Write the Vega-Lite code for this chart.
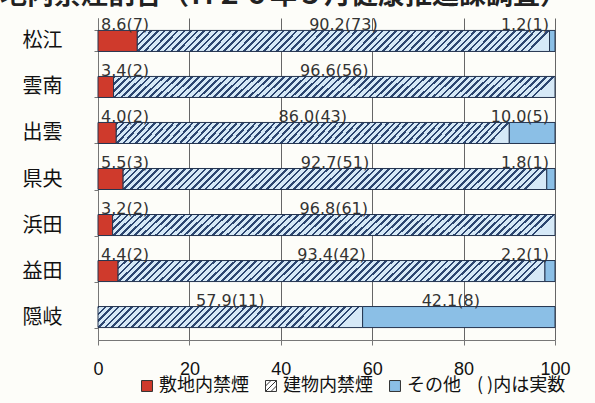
{
"$schema":"https://vega.github.io/schema/vega-lite/v6.json",
"width":457,"height":322,
"autosize":"none",
"padding":{"left":98,"top":18,"right":40,"bottom":63},
"background":"#fdfdf9",
"title":{"text":"敷地内禁煙割合（Ｈ２６年５月健康推進課調査）","anchor":"start","frame":"group","dx":-125,"dy":29,"offset":0,"baseline":"bottom","fontSize":27,"font":"Noto Sans CJK JP","fontWeight":"bold","color":"#222222"},
"data":{"values":[
{"area":"松江","type":"敷地内禁煙","pct":8.6,"n":7},
{"area":"松江","type":"建物内禁煙","pct":90.2,"n":73},
{"area":"松江","type":"その他","pct":1.2,"n":1},
{"area":"雲南","type":"敷地内禁煙","pct":3.4,"n":2},
{"area":"雲南","type":"建物内禁煙","pct":96.6,"n":56},
{"area":"出雲","type":"敷地内禁煙","pct":4.0,"n":2},
{"area":"出雲","type":"建物内禁煙","pct":86.0,"n":43},
{"area":"出雲","type":"その他","pct":10.0,"n":5},
{"area":"県央","type":"敷地内禁煙","pct":5.5,"n":3},
{"area":"県央","type":"建物内禁煙","pct":92.7,"n":51},
{"area":"県央","type":"その他","pct":1.8,"n":1},
{"area":"浜田","type":"敷地内禁煙","pct":3.2,"n":2},
{"area":"浜田","type":"建物内禁煙","pct":96.8,"n":61},
{"area":"益田","type":"敷地内禁煙","pct":4.4,"n":2},
{"area":"益田","type":"建物内禁煙","pct":93.4,"n":42},
{"area":"益田","type":"その他","pct":2.2,"n":1},
{"area":"隠岐","type":"建物内禁煙","pct":57.9,"n":11},
{"area":"隠岐","type":"その他","pct":42.1,"n":8}
]},
"transform":[
{"calculate":"indexof(['敷地内禁煙','建物内禁煙','その他'], datum.type)","as":"order"},
{"stack":"pct","groupby":["area"],"sort":[{"field":"order","order":"ascending"}],"as":["x0","x1"]},
{"calculate":"(datum.x0+datum.x1)/2","as":"mid"},
{"calculate":"format(datum.pct,'.1f')+'('+datum.n+')'","as":"label"}
],
"encoding":{
"y":{"field":"area","type":"nominal","title":null,"sort":["松江","雲南","出雲","県央","浜田","益田","隠岐"],
"scale":{"paddingInner":0.543,"paddingOuter":0.27},
"axis":{"domainColor":"#777777","tickColor":"#777777","tickSize":4,"tickBand":"extent","labelFontSize":20,"labelColor":"#111111","labelPadding":32,"grid":false,"labelFont":"Noto Sans CJK JP"}}
},
"layer":[
{"mark":{"type":"bar","stroke":"#24344f","strokeWidth":1},
"encoding":{
"x":{"field":"x0","type":"quantitative","title":null,"scale":{"domain":[0,100],"nice":false},
"axis":{"values":[0,20,40,60,80,100],"grid":true,"gridColor":"#666666","gridWidth":1,"domainColor":"#777777","tickColor":"#777777","tickSize":5,"labelFont":"Liberation Sans","labelFontSize":18,"labelColor":"#111111","labelPadding":15,"labelFlush":false,"labelOverlap":false}},
"x2":{"field":"x1"},
"fill":{"field":"type","type":"nominal",
"scale":{"domain":["敷地内禁煙","建物内禁煙","その他"],"range":["#cf3a2c","#ffffff","#8bbfe6"]},
"condition":[
{"test":"datum.type==='建物内禁煙' && datum.area==='隠岐'","value":{"gradient":"linear","x1":0,"y1":0,"x2":1,"y2":0.079,"stops":[
{"offset":0,"color":"#2c4670"},{"offset":0.009,"color":"#2c4670"},{"offset":0.009,"color":"#d6e9f7"},{"offset":0.025,"color":"#d6e9f7"},
{"offset":0.025,"color":"#2c4670"},{"offset":0.034,"color":"#2c4670"},{"offset":0.034,"color":"#d6e9f7"},{"offset":0.05,"color":"#d6e9f7"},
{"offset":0.05,"color":"#2c4670"},{"offset":0.059,"color":"#2c4670"},{"offset":0.059,"color":"#d6e9f7"},{"offset":0.075,"color":"#d6e9f7"},
{"offset":0.075,"color":"#2c4670"},{"offset":0.084,"color":"#2c4670"},{"offset":0.084,"color":"#d6e9f7"},{"offset":0.1,"color":"#d6e9f7"},
{"offset":0.1,"color":"#2c4670"},{"offset":0.109,"color":"#2c4670"},{"offset":0.109,"color":"#d6e9f7"},{"offset":0.125,"color":"#d6e9f7"},
{"offset":0.125,"color":"#2c4670"},{"offset":0.134,"color":"#2c4670"},{"offset":0.134,"color":"#d6e9f7"},{"offset":0.15,"color":"#d6e9f7"},
{"offset":0.15,"color":"#2c4670"},{"offset":0.159,"color":"#2c4670"},{"offset":0.159,"color":"#d6e9f7"},{"offset":0.175,"color":"#d6e9f7"},
{"offset":0.175,"color":"#2c4670"},{"offset":0.184,"color":"#2c4670"},{"offset":0.184,"color":"#d6e9f7"},{"offset":0.2,"color":"#d6e9f7"},
{"offset":0.2,"color":"#2c4670"},{"offset":0.209,"color":"#2c4670"},{"offset":0.209,"color":"#d6e9f7"},{"offset":0.225,"color":"#d6e9f7"},
{"offset":0.225,"color":"#2c4670"},{"offset":0.234,"color":"#2c4670"},{"offset":0.234,"color":"#d6e9f7"},{"offset":0.25,"color":"#d6e9f7"},
{"offset":0.25,"color":"#2c4670"},{"offset":0.259,"color":"#2c4670"},{"offset":0.259,"color":"#d6e9f7"},{"offset":0.275,"color":"#d6e9f7"},
{"offset":0.275,"color":"#2c4670"},{"offset":0.284,"color":"#2c4670"},{"offset":0.284,"color":"#d6e9f7"},{"offset":0.3,"color":"#d6e9f7"},
{"offset":0.3,"color":"#2c4670"},{"offset":0.309,"color":"#2c4670"},{"offset":0.309,"color":"#d6e9f7"},{"offset":0.325,"color":"#d6e9f7"},
{"offset":0.325,"color":"#2c4670"},{"offset":0.334,"color":"#2c4670"},{"offset":0.334,"color":"#d6e9f7"},{"offset":0.35,"color":"#d6e9f7"},
{"offset":0.35,"color":"#2c4670"},{"offset":0.359,"color":"#2c4670"},{"offset":0.359,"color":"#d6e9f7"},{"offset":0.375,"color":"#d6e9f7"},
{"offset":0.375,"color":"#2c4670"},{"offset":0.384,"color":"#2c4670"},{"offset":0.384,"color":"#d6e9f7"},{"offset":0.4,"color":"#d6e9f7"},
{"offset":0.4,"color":"#2c4670"},{"offset":0.409,"color":"#2c4670"},{"offset":0.409,"color":"#d6e9f7"},{"offset":0.425,"color":"#d6e9f7"},
{"offset":0.425,"color":"#2c4670"},{"offset":0.434,"color":"#2c4670"},{"offset":0.434,"color":"#d6e9f7"},{"offset":0.45,"color":"#d6e9f7"},
{"offset":0.45,"color":"#2c4670"},{"offset":0.459,"color":"#2c4670"},{"offset":0.459,"color":"#d6e9f7"},{"offset":0.475,"color":"#d6e9f7"},
{"offset":0.475,"color":"#2c4670"},{"offset":0.484,"color":"#2c4670"},{"offset":0.484,"color":"#d6e9f7"},{"offset":0.5,"color":"#d6e9f7"},
{"offset":0.5,"color":"#2c4670"},{"offset":0.509,"color":"#2c4670"},{"offset":0.509,"color":"#d6e9f7"},{"offset":0.525,"color":"#d6e9f7"},
{"offset":0.525,"color":"#2c4670"},{"offset":0.534,"color":"#2c4670"},{"offset":0.534,"color":"#d6e9f7"},{"offset":0.55,"color":"#d6e9f7"},
{"offset":0.55,"color":"#2c4670"},{"offset":0.559,"color":"#2c4670"},{"offset":0.559,"color":"#d6e9f7"},{"offset":0.575,"color":"#d6e9f7"},
{"offset":0.575,"color":"#2c4670"},{"offset":0.584,"color":"#2c4670"},{"offset":0.584,"color":"#d6e9f7"},{"offset":0.6,"color":"#d6e9f7"},
{"offset":0.6,"color":"#2c4670"},{"offset":0.609,"color":"#2c4670"},{"offset":0.609,"color":"#d6e9f7"},{"offset":0.625,"color":"#d6e9f7"},
{"offset":0.625,"color":"#2c4670"},{"offset":0.634,"color":"#2c4670"},{"offset":0.634,"color":"#d6e9f7"},{"offset":0.65,"color":"#d6e9f7"},
{"offset":0.65,"color":"#2c4670"},{"offset":0.659,"color":"#2c4670"},{"offset":0.659,"color":"#d6e9f7"},{"offset":0.675,"color":"#d6e9f7"},
{"offset":0.675,"color":"#2c4670"},{"offset":0.684,"color":"#2c4670"},{"offset":0.684,"color":"#d6e9f7"},{"offset":0.7,"color":"#d6e9f7"},
{"offset":0.7,"color":"#2c4670"},{"offset":0.709,"color":"#2c4670"},{"offset":0.709,"color":"#d6e9f7"},{"offset":0.725,"color":"#d6e9f7"},
{"offset":0.725,"color":"#2c4670"},{"offset":0.734,"color":"#2c4670"},{"offset":0.734,"color":"#d6e9f7"},{"offset":0.75,"color":"#d6e9f7"},
{"offset":0.75,"color":"#2c4670"},{"offset":0.759,"color":"#2c4670"},{"offset":0.759,"color":"#d6e9f7"},{"offset":0.775,"color":"#d6e9f7"},
{"offset":0.775,"color":"#2c4670"},{"offset":0.784,"color":"#2c4670"},{"offset":0.784,"color":"#d6e9f7"},{"offset":0.8,"color":"#d6e9f7"},
{"offset":0.8,"color":"#2c4670"},{"offset":0.809,"color":"#2c4670"},{"offset":0.809,"color":"#d6e9f7"},{"offset":0.825,"color":"#d6e9f7"},
{"offset":0.825,"color":"#2c4670"},{"offset":0.834,"color":"#2c4670"},{"offset":0.834,"color":"#d6e9f7"},{"offset":0.85,"color":"#d6e9f7"},
{"offset":0.85,"color":"#2c4670"},{"offset":0.859,"color":"#2c4670"},{"offset":0.859,"color":"#d6e9f7"},{"offset":0.875,"color":"#d6e9f7"},
{"offset":0.875,"color":"#2c4670"},{"offset":0.884,"color":"#2c4670"},{"offset":0.884,"color":"#d6e9f7"},{"offset":0.9,"color":"#d6e9f7"},
{"offset":0.9,"color":"#2c4670"},{"offset":0.909,"color":"#2c4670"},{"offset":0.909,"color":"#d6e9f7"},{"offset":0.925,"color":"#d6e9f7"},
{"offset":0.925,"color":"#2c4670"},{"offset":0.934,"color":"#2c4670"},{"offset":0.934,"color":"#d6e9f7"},{"offset":0.95,"color":"#d6e9f7"},
{"offset":0.95,"color":"#2c4670"},{"offset":0.959,"color":"#2c4670"},{"offset":0.959,"color":"#d6e9f7"},{"offset":0.975,"color":"#d6e9f7"},
{"offset":0.975,"color":"#2c4670"},{"offset":0.984,"color":"#2c4670"},{"offset":0.984,"color":"#d6e9f7"},{"offset":1,"color":"#d6e9f7"}
]}},
{"test":"datum.type==='建物内禁煙'","value":{"gradient":"linear","x1":0,"y1":0,"x2":1,"y2":0.05,"stops":[
{"offset":0,"color":"#2c4670"},{"offset":0.006,"color":"#2c4670"},{"offset":0.006,"color":"#d6e9f7"},{"offset":0.016,"color":"#d6e9f7"},
{"offset":0.016,"color":"#2c4670"},{"offset":0.022,"color":"#2c4670"},{"offset":0.022,"color":"#d6e9f7"},{"offset":0.032,"color":"#d6e9f7"},
{"offset":0.032,"color":"#2c4670"},{"offset":0.038,"color":"#2c4670"},{"offset":0.038,"color":"#d6e9f7"},{"offset":0.048,"color":"#d6e9f7"},
{"offset":0.048,"color":"#2c4670"},{"offset":0.054,"color":"#2c4670"},{"offset":0.054,"color":"#d6e9f7"},{"offset":0.064,"color":"#d6e9f7"},
{"offset":0.064,"color":"#2c4670"},{"offset":0.07,"color":"#2c4670"},{"offset":0.07,"color":"#d6e9f7"},{"offset":0.08,"color":"#d6e9f7"},
{"offset":0.08,"color":"#2c4670"},{"offset":0.086,"color":"#2c4670"},{"offset":0.086,"color":"#d6e9f7"},{"offset":0.096,"color":"#d6e9f7"},
{"offset":0.096,"color":"#2c4670"},{"offset":0.102,"color":"#2c4670"},{"offset":0.102,"color":"#d6e9f7"},{"offset":0.112,"color":"#d6e9f7"},
{"offset":0.112,"color":"#2c4670"},{"offset":0.118,"color":"#2c4670"},{"offset":0.118,"color":"#d6e9f7"},{"offset":0.128,"color":"#d6e9f7"},
{"offset":0.128,"color":"#2c4670"},{"offset":0.134,"color":"#2c4670"},{"offset":0.134,"color":"#d6e9f7"},{"offset":0.144,"color":"#d6e9f7"},
{"offset":0.144,"color":"#2c4670"},{"offset":0.15,"color":"#2c4670"},{"offset":0.15,"color":"#d6e9f7"},{"offset":0.16,"color":"#d6e9f7"},
{"offset":0.16,"color":"#2c4670"},{"offset":0.166,"color":"#2c4670"},{"offset":0.166,"color":"#d6e9f7"},{"offset":0.176,"color":"#d6e9f7"},
{"offset":0.176,"color":"#2c4670"},{"offset":0.182,"color":"#2c4670"},{"offset":0.182,"color":"#d6e9f7"},{"offset":0.192,"color":"#d6e9f7"},
{"offset":0.192,"color":"#2c4670"},{"offset":0.198,"color":"#2c4670"},{"offset":0.198,"color":"#d6e9f7"},{"offset":0.208,"color":"#d6e9f7"},
{"offset":0.208,"color":"#2c4670"},{"offset":0.214,"color":"#2c4670"},{"offset":0.214,"color":"#d6e9f7"},{"offset":0.224,"color":"#d6e9f7"},
{"offset":0.224,"color":"#2c4670"},{"offset":0.23,"color":"#2c4670"},{"offset":0.23,"color":"#d6e9f7"},{"offset":0.24,"color":"#d6e9f7"},
{"offset":0.24,"color":"#2c4670"},{"offset":0.246,"color":"#2c4670"},{"offset":0.246,"color":"#d6e9f7"},{"offset":0.256,"color":"#d6e9f7"},
{"offset":0.256,"color":"#2c4670"},{"offset":0.262,"color":"#2c4670"},{"offset":0.262,"color":"#d6e9f7"},{"offset":0.272,"color":"#d6e9f7"},
{"offset":0.272,"color":"#2c4670"},{"offset":0.278,"color":"#2c4670"},{"offset":0.278,"color":"#d6e9f7"},{"offset":0.288,"color":"#d6e9f7"},
{"offset":0.288,"color":"#2c4670"},{"offset":0.294,"color":"#2c4670"},{"offset":0.294,"color":"#d6e9f7"},{"offset":0.304,"color":"#d6e9f7"},
{"offset":0.304,"color":"#2c4670"},{"offset":0.31,"color":"#2c4670"},{"offset":0.31,"color":"#d6e9f7"},{"offset":0.32,"color":"#d6e9f7"},
{"offset":0.32,"color":"#2c4670"},{"offset":0.326,"color":"#2c4670"},{"offset":0.326,"color":"#d6e9f7"},{"offset":0.336,"color":"#d6e9f7"},
{"offset":0.336,"color":"#2c4670"},{"offset":0.342,"color":"#2c4670"},{"offset":0.342,"color":"#d6e9f7"},{"offset":0.352,"color":"#d6e9f7"},
{"offset":0.352,"color":"#2c4670"},{"offset":0.358,"color":"#2c4670"},{"offset":0.358,"color":"#d6e9f7"},{"offset":0.368,"color":"#d6e9f7"},
{"offset":0.368,"color":"#2c4670"},{"offset":0.374,"color":"#2c4670"},{"offset":0.374,"color":"#d6e9f7"},{"offset":0.384,"color":"#d6e9f7"},
{"offset":0.384,"color":"#2c4670"},{"offset":0.39,"color":"#2c4670"},{"offset":0.39,"color":"#d6e9f7"},{"offset":0.4,"color":"#d6e9f7"},
{"offset":0.4,"color":"#2c4670"},{"offset":0.406,"color":"#2c4670"},{"offset":0.406,"color":"#d6e9f7"},{"offset":0.416,"color":"#d6e9f7"},
{"offset":0.416,"color":"#2c4670"},{"offset":0.422,"color":"#2c4670"},{"offset":0.422,"color":"#d6e9f7"},{"offset":0.432,"color":"#d6e9f7"},
{"offset":0.432,"color":"#2c4670"},{"offset":0.438,"color":"#2c4670"},{"offset":0.438,"color":"#d6e9f7"},{"offset":0.448,"color":"#d6e9f7"},
{"offset":0.448,"color":"#2c4670"},{"offset":0.454,"color":"#2c4670"},{"offset":0.454,"color":"#d6e9f7"},{"offset":0.464,"color":"#d6e9f7"},
{"offset":0.464,"color":"#2c4670"},{"offset":0.47,"color":"#2c4670"},{"offset":0.47,"color":"#d6e9f7"},{"offset":0.48,"color":"#d6e9f7"},
{"offset":0.48,"color":"#2c4670"},{"offset":0.486,"color":"#2c4670"},{"offset":0.486,"color":"#d6e9f7"},{"offset":0.496,"color":"#d6e9f7"},
{"offset":0.496,"color":"#2c4670"},{"offset":0.502,"color":"#2c4670"},{"offset":0.502,"color":"#d6e9f7"},{"offset":0.512,"color":"#d6e9f7"},
{"offset":0.512,"color":"#2c4670"},{"offset":0.518,"color":"#2c4670"},{"offset":0.518,"color":"#d6e9f7"},{"offset":0.528,"color":"#d6e9f7"},
{"offset":0.528,"color":"#2c4670"},{"offset":0.534,"color":"#2c4670"},{"offset":0.534,"color":"#d6e9f7"},{"offset":0.544,"color":"#d6e9f7"},
{"offset":0.544,"color":"#2c4670"},{"offset":0.55,"color":"#2c4670"},{"offset":0.55,"color":"#d6e9f7"},{"offset":0.56,"color":"#d6e9f7"},
{"offset":0.56,"color":"#2c4670"},{"offset":0.566,"color":"#2c4670"},{"offset":0.566,"color":"#d6e9f7"},{"offset":0.576,"color":"#d6e9f7"},
{"offset":0.576,"color":"#2c4670"},{"offset":0.582,"color":"#2c4670"},{"offset":0.582,"color":"#d6e9f7"},{"offset":0.592,"color":"#d6e9f7"},
{"offset":0.592,"color":"#2c4670"},{"offset":0.598,"color":"#2c4670"},{"offset":0.598,"color":"#d6e9f7"},{"offset":0.608,"color":"#d6e9f7"},
{"offset":0.608,"color":"#2c4670"},{"offset":0.614,"color":"#2c4670"},{"offset":0.614,"color":"#d6e9f7"},{"offset":0.624,"color":"#d6e9f7"},
{"offset":0.624,"color":"#2c4670"},{"offset":0.63,"color":"#2c4670"},{"offset":0.63,"color":"#d6e9f7"},{"offset":0.64,"color":"#d6e9f7"},
{"offset":0.64,"color":"#2c4670"},{"offset":0.646,"color":"#2c4670"},{"offset":0.646,"color":"#d6e9f7"},{"offset":0.656,"color":"#d6e9f7"},
{"offset":0.656,"color":"#2c4670"},{"offset":0.662,"color":"#2c4670"},{"offset":0.662,"color":"#d6e9f7"},{"offset":0.672,"color":"#d6e9f7"},
{"offset":0.672,"color":"#2c4670"},{"offset":0.678,"color":"#2c4670"},{"offset":0.678,"color":"#d6e9f7"},{"offset":0.688,"color":"#d6e9f7"},
{"offset":0.688,"color":"#2c4670"},{"offset":0.694,"color":"#2c4670"},{"offset":0.694,"color":"#d6e9f7"},{"offset":0.704,"color":"#d6e9f7"},
{"offset":0.704,"color":"#2c4670"},{"offset":0.71,"color":"#2c4670"},{"offset":0.71,"color":"#d6e9f7"},{"offset":0.72,"color":"#d6e9f7"},
{"offset":0.72,"color":"#2c4670"},{"offset":0.726,"color":"#2c4670"},{"offset":0.726,"color":"#d6e9f7"},{"offset":0.736,"color":"#d6e9f7"},
{"offset":0.736,"color":"#2c4670"},{"offset":0.742,"color":"#2c4670"},{"offset":0.742,"color":"#d6e9f7"},{"offset":0.752,"color":"#d6e9f7"},
{"offset":0.752,"color":"#2c4670"},{"offset":0.758,"color":"#2c4670"},{"offset":0.758,"color":"#d6e9f7"},{"offset":0.768,"color":"#d6e9f7"},
{"offset":0.768,"color":"#2c4670"},{"offset":0.774,"color":"#2c4670"},{"offset":0.774,"color":"#d6e9f7"},{"offset":0.784,"color":"#d6e9f7"},
{"offset":0.784,"color":"#2c4670"},{"offset":0.79,"color":"#2c4670"},{"offset":0.79,"color":"#d6e9f7"},{"offset":0.8,"color":"#d6e9f7"},
{"offset":0.8,"color":"#2c4670"},{"offset":0.806,"color":"#2c4670"},{"offset":0.806,"color":"#d6e9f7"},{"offset":0.816,"color":"#d6e9f7"},
{"offset":0.816,"color":"#2c4670"},{"offset":0.822,"color":"#2c4670"},{"offset":0.822,"color":"#d6e9f7"},{"offset":0.832,"color":"#d6e9f7"},
{"offset":0.832,"color":"#2c4670"},{"offset":0.838,"color":"#2c4670"},{"offset":0.838,"color":"#d6e9f7"},{"offset":0.848,"color":"#d6e9f7"},
{"offset":0.848,"color":"#2c4670"},{"offset":0.854,"color":"#2c4670"},{"offset":0.854,"color":"#d6e9f7"},{"offset":0.864,"color":"#d6e9f7"},
{"offset":0.864,"color":"#2c4670"},{"offset":0.87,"color":"#2c4670"},{"offset":0.87,"color":"#d6e9f7"},{"offset":0.88,"color":"#d6e9f7"},
{"offset":0.88,"color":"#2c4670"},{"offset":0.886,"color":"#2c4670"},{"offset":0.886,"color":"#d6e9f7"},{"offset":0.896,"color":"#d6e9f7"},
{"offset":0.896,"color":"#2c4670"},{"offset":0.902,"color":"#2c4670"},{"offset":0.902,"color":"#d6e9f7"},{"offset":0.912,"color":"#d6e9f7"},
{"offset":0.912,"color":"#2c4670"},{"offset":0.918,"color":"#2c4670"},{"offset":0.918,"color":"#d6e9f7"},{"offset":0.928,"color":"#d6e9f7"},
{"offset":0.928,"color":"#2c4670"},{"offset":0.934,"color":"#2c4670"},{"offset":0.934,"color":"#d6e9f7"},{"offset":0.944,"color":"#d6e9f7"},
{"offset":0.944,"color":"#2c4670"},{"offset":0.95,"color":"#2c4670"},{"offset":0.95,"color":"#d6e9f7"},{"offset":0.96,"color":"#d6e9f7"},
{"offset":0.96,"color":"#2c4670"},{"offset":0.966,"color":"#2c4670"},{"offset":0.966,"color":"#d6e9f7"},{"offset":0.976,"color":"#d6e9f7"},
{"offset":0.976,"color":"#2c4670"},{"offset":0.982,"color":"#2c4670"},{"offset":0.982,"color":"#d6e9f7"},{"offset":0.992,"color":"#d6e9f7"},
{"offset":0.992,"color":"#2c4670"},{"offset":0.998,"color":"#2c4670"},{"offset":0.998,"color":"#d6e9f7"},{"offset":1,"color":"#d6e9f7"}
]}}
],
"legend":{"orient":"none","legendX":40,"legendY":359,"direction":"horizontal","title":"( )内は実数","titleOrient":"right","titlePadding":16,"titleFontSize":18,"titleFontWeight":"normal","titleColor":"#111111","titleFont":"Noto Sans CJK JP","labelFont":"Noto Sans CJK JP","labelFontSize":18,"labelColor":"#111111","symbolType":"square","symbolSize":120,"symbolStrokeColor":"#333333","symbolStrokeWidth":1,"columnPadding":13,"labelOffset":3,"padding":0,
"encode":{"symbols":{"update":{"shape":{"signal":"datum.value === '建物内禁煙' ? 'M-1,-1H1V1H-1Z M-1,1L1,-1 M-1,0L0,-1 M0,1L1,0' : 'square'"}}}}}
}
}},
{"transform":[{"filter":"datum.type==='敷地内禁煙'"}],
"mark":{"type":"text","align":"left","baseline":"alphabetic","dx":3,"dy":-11,"font":"DejaVu Sans","fontSize":16,"fill":"#333333"},
"encoding":{"x":{"field":"x0","type":"quantitative","title":null,"scale":{"domain":[0,100],"nice":false}},"text":{"field":"label"}}},
{"transform":[{"filter":"datum.type==='建物内禁煙'"}],
"mark":{"type":"text","align":"center","baseline":"alphabetic","dy":-11,"font":"DejaVu Sans","fontSize":16,"fill":"#333333"},
"encoding":{"x":{"field":"mid","type":"quantitative","title":null,"scale":{"domain":[0,100],"nice":false}},"text":{"field":"label"}}},
{"transform":[{"filter":"datum.type==='その他' && datum.pct<20"}],
"mark":{"type":"text","align":"right","baseline":"alphabetic","dx":-6,"dy":-11,"font":"DejaVu Sans","fontSize":16,"fill":"#333333"},
"encoding":{"x":{"field":"x1","type":"quantitative","title":null,"scale":{"domain":[0,100],"nice":false}},"text":{"field":"label"}}},
{"transform":[{"filter":"datum.type==='その他' && datum.pct>=20"}],
"mark":{"type":"text","align":"center","baseline":"alphabetic","dx":-8,"dy":-11,"font":"DejaVu Sans","fontSize":16,"fill":"#333333"},
"encoding":{"x":{"field":"mid","type":"quantitative","title":null,"scale":{"domain":[0,100],"nice":false}},"text":{"field":"label"}}}
],
"config":{"view":{"stroke":null},"font":"Noto Sans CJK JP"}
}
